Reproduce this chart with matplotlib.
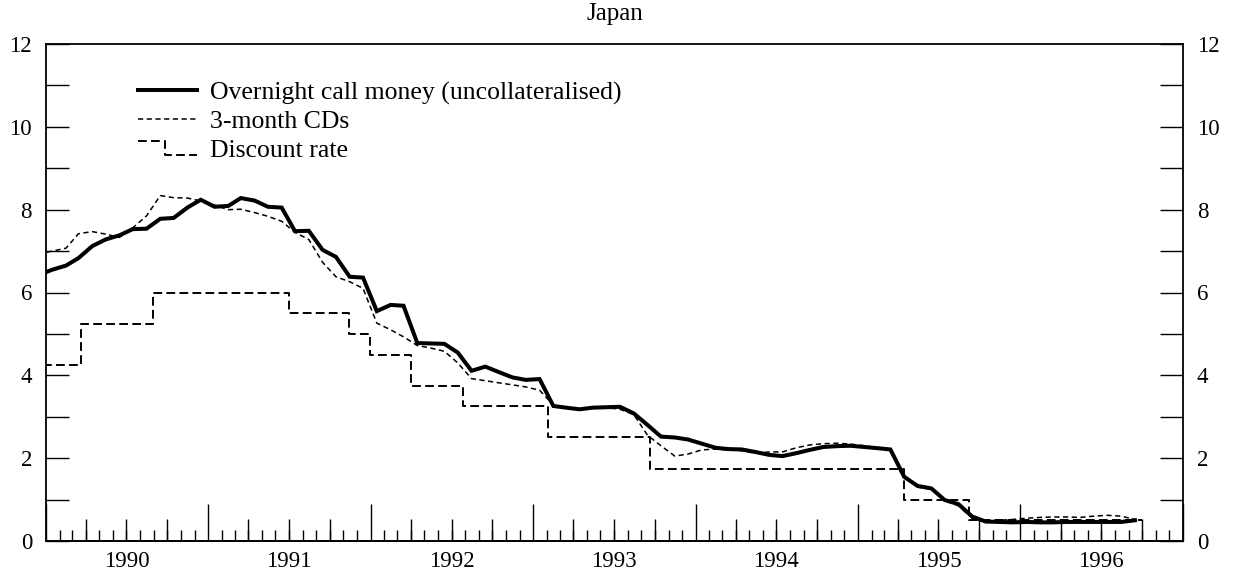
import numpy as np
import pandas as pd
import matplotlib
matplotlib.use("Agg")
import matplotlib.pyplot as plt
import matplotlib.dates as mdates
from matplotlib.lines import Line2D
from matplotlib.legend_handler import HandlerLine2D
from matplotlib.ticker import FixedLocator, FuncFormatter, NullFormatter

plt.rcParams["font.family"] = ["Liberation Serif", "DejaVu Serif"]

# monthly averages, Dec 1989 .. Sep 1996 (plotted mid-month)
months = pd.date_range("1989-12-01", "1996-09-01", freq="MS") + pd.Timedelta(days=14)

call_money = [
    6.42,
    6.55, 6.65, 6.83, 7.12, 7.28, 7.38, 7.53, 7.54, 7.78, 7.80, 8.05, 8.24,
    8.07, 8.09, 8.28, 8.22, 8.07, 8.05, 7.48, 7.49, 7.03, 6.86, 6.38, 6.36,
    5.55, 5.70, 5.68, 4.78, 4.77, 4.76, 4.55, 4.11, 4.21, 4.08, 3.95, 3.89,
    3.91, 3.26, 3.22, 3.18, 3.22, 3.23, 3.24, 3.08, 2.80, 2.52, 2.50, 2.45,
    2.35, 2.25, 2.22, 2.21, 2.15, 2.08, 2.05, 2.12, 2.20, 2.27, 2.29, 2.30,
    2.27, 2.24, 2.21, 1.55, 1.33, 1.27, 0.99, 0.89, 0.59, 0.47, 0.46, 0.45,
    0.46, 0.45, 0.45, 0.46, 0.46, 0.46, 0.46, 0.46, 0.50,
]

cds_3m = [
    6.93,
    7.00, 7.07, 7.42, 7.47, 7.41, 7.33, 7.56, 7.85, 8.34, 8.29, 8.28, 8.21,
    8.11, 8.00, 8.01, 7.93, 7.84, 7.72, 7.45, 7.28, 6.73, 6.38, 6.26, 6.10,
    5.26, 5.10, 4.93, 4.72, 4.66, 4.58, 4.30, 3.92, 3.87, 3.82, 3.77, 3.72,
    3.64, 3.28, 3.20, 3.18, 3.20, 3.22, 3.18, 3.05, 2.55, 2.30, 2.05, 2.10,
    2.20, 2.22, 2.20, 2.18, 2.12, 2.15, 2.15, 2.25, 2.32, 2.35, 2.36, 2.34,
    2.30, 2.25, 2.22, 1.55, 1.30, 1.25, 0.98, 0.85, 0.55, 0.48, 0.50, 0.52,
    0.55, 0.57, 0.58, 0.58, 0.57, 0.60, 0.62, 0.60, 0.52,
]

# official discount rate changes
disc_dates = pd.to_datetime([
    "1989-12-25", "1990-03-20", "1990-08-30", "1991-07-01", "1991-11-14",
    "1991-12-30", "1992-04-01", "1992-07-27", "1993-02-04", "1993-09-21",
    "1995-04-14", "1995-09-08", "1996-09-30",
])
disc_rate = [4.25, 5.25, 6.0, 5.5, 5.0, 4.5, 3.75, 3.25, 2.5, 1.75, 1.0, 0.5, 0.5]

labels = ["Overnight call money (uncollateralised)", "3-month CDs", "Discount rate"]


class HandlerStep(HandlerLine2D):
    """Legend key drawn as a small step, like the discount-rate line."""

    def create_artists(self, legend, orig_handle, xdescent, ydescent,
                       width, height, fontsize, trans):
        x0 = -xdescent
        xm = x0 + width * 0.45
        yc = -ydescent + height / 2
        d = height * 0.38
        line = Line2D([x0, xm, xm, x0 + width], [yc + d, yc + d, yc - d, yc - d])
        self.update_prop(line, orig_handle, legend)
        line.set_transform(trans)
        return [line]


fig = plt.figure(figsize=(12.34, 5.72), dpi=100)
ax = fig.add_axes([46 / 1234, 1 - 541 / 572, 1137 / 1234, 497 / 572])

l_call, = ax.plot(months, call_money, color="black", lw=2.9,
                  solid_joinstyle="miter", zorder=3)
l_cd, = ax.plot(months, cds_3m, color="black", lw=1.1,
                linestyle=(0, (3.4, 2.3)), zorder=2)
l_disc, = ax.plot(disc_dates, disc_rate, color="black", lw=1.4,
                  drawstyle="steps-post", linestyle=(0, (4.5, 2.2)), zorder=2)

ax.set_xlim(pd.Timestamp("1990-01-01"), pd.Timestamp("1997-01-01"))
ax.set_ylim(0, 12)

# x axis: long ticks at years, medium at quarters, short at months
ax.xaxis.set_major_locator(mdates.YearLocator())
ax.xaxis.set_major_formatter(NullFormatter())
ax.xaxis.set_minor_locator(mdates.MonthLocator())
ax.tick_params(axis="x", which="major", direction="in", length=27, width=1.0)
ax.tick_params(axis="x", which="minor", direction="in", length=8, width=1.0)

sec = ax.secondary_xaxis("bottom")
sec.xaxis.set_major_locator(mdates.MonthLocator(bymonth=[4, 7, 10]))
sec.xaxis.set_major_formatter(FuncFormatter(
    lambda v, pos: str(mdates.num2date(v).year) if mdates.num2date(v).month == 7 else ""))
sec.tick_params(axis="x", direction="in", length=16, width=1.0, pad=7, labelsize=16.5)
sec.spines["bottom"].set_linewidth(1.3)

# y axis on both sides
yticks = list(range(0, 13))
ax.yaxis.set_major_locator(FixedLocator(yticks))
ax.yaxis.set_major_formatter(FuncFormatter(lambda v, pos: f"{int(v)}" if int(v) % 2 == 0 else ""))
ax.tick_params(axis="y", which="major", direction="in", length=16.5, width=1.0,
               left=True, right=True, labelleft=True, labelright=True,
               pad=10, labelsize=16.5)

for s in ax.spines.values():
    s.set_linewidth(1.3)

ax.set_title("Japan", fontsize=18, pad=17)

ax.legend([l_call, l_cd, l_disc], labels, handler_map={l_disc: HandlerStep()},
          loc="upper left", bbox_to_anchor=(0.081, 0.925), frameon=False,
          fontsize=18.5, handlelength=2.3, handletextpad=0.5,
          labelspacing=0.22, borderpad=0, borderaxespad=0)

fig.savefig("out.png", dpi=100)
